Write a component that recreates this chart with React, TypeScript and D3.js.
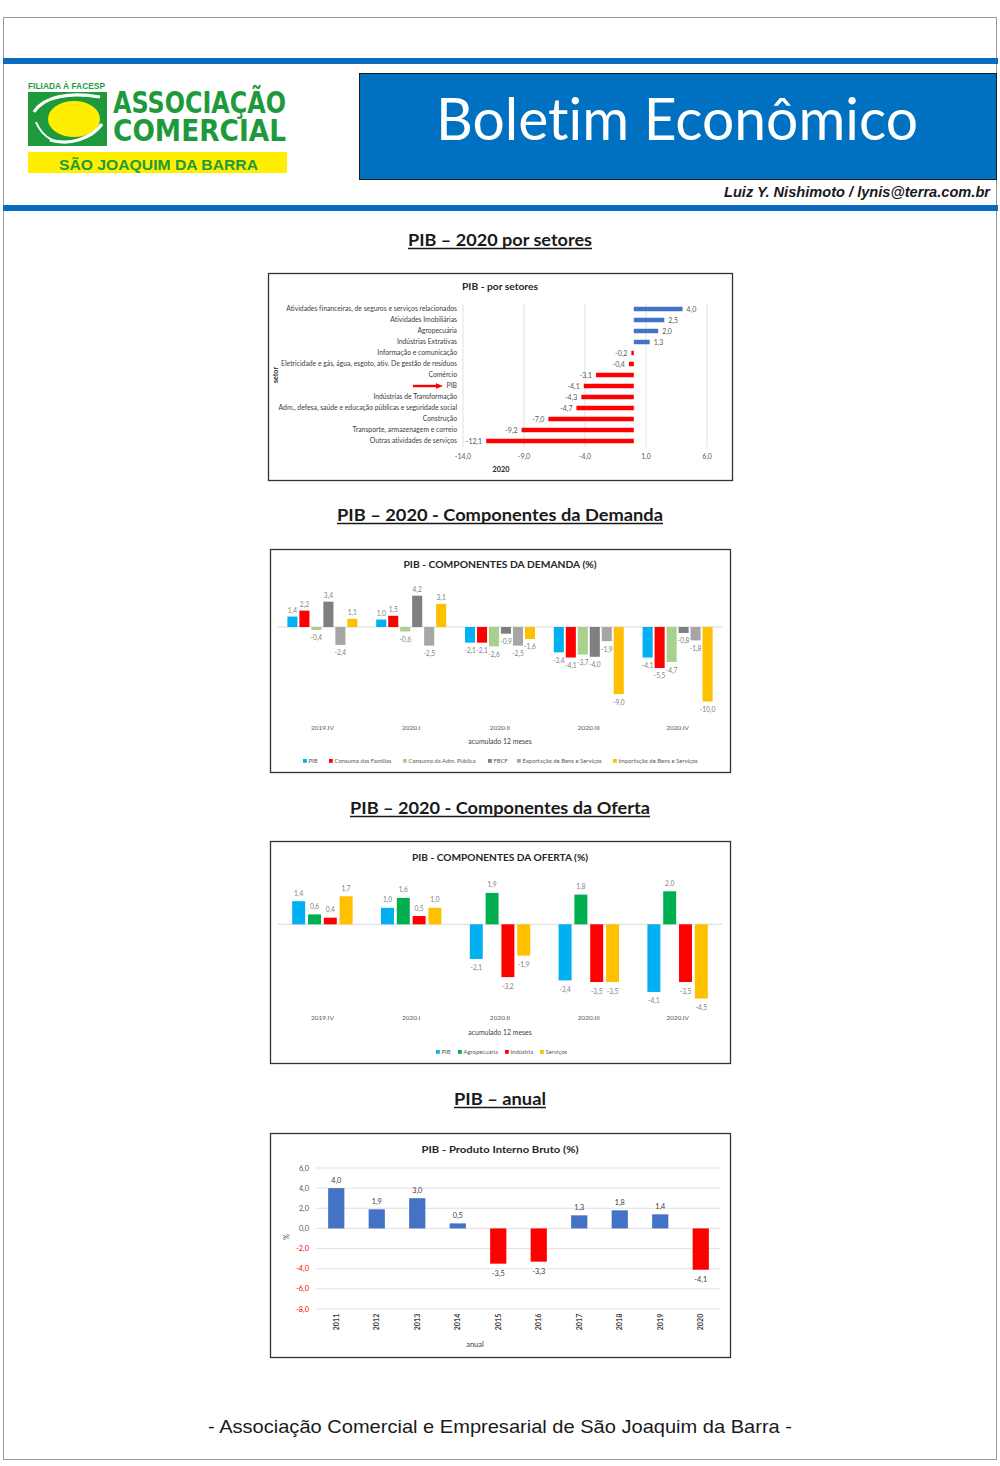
import React from 'react';
import * as d3 from 'd3';

// ---------- DATA ----------
const sectorNames = [
  'Atividades financeiras, de seguros e serviços relacionados',
  'Atividades Imobiliárias',
  'Agropecuária',
  'Indústrias Extrativas',
  'Informação e comunicação',
  'Eletricidade e gás, água, esgoto, ativ. De gestão de resíduos',
  'Comércio',
  'PIB',
  'Indústrias de Transformação',
  'Adm., defesa, saúde e educação públicas e seguridade social',
  'Construção',
  'Transporte, armazenagem e correio',
  'Outras atividades de serviços',
];
const sectorValues = [4.0, 2.5, 2.0, 1.3, -0.2, -0.4, -3.1, -4.1, -4.3, -4.7, -7.0, -9.2, -12.1];
const sectorTicks = [-14, -9, -4, 1, 6];

const quarters = ['2019.IV', '2020.I', '2020.II', '2020.III', '2020.IV'];

const demandSeries = [
  'PIB',
  'Consumo das Famílias',
  'Consumo da Adm. Pública',
  'FBCF',
  'Exportação de Bens e Serviços',
  'Importação de Bens e Serviços',
];
const demandColors = ['#00B0F0', '#FF0000', '#A9D18E', '#7F7F7F', '#A6A6A6', '#FFC000'];
const demandPIB = [1.4, 1.0, -2.1, -3.4, -4.1];
const demandFamilias = [2.2, 1.5, -2.1, -4.1, -5.5];
const demandAdmPublica = [-0.4, -0.6, -2.6, -3.7, -4.7];
const demandFBCF = [3.4, 4.2, -0.9, -4.0, -0.8];
const demandExportacao = [-2.4, -2.5, -2.5, -1.9, -1.8];
const demandImportacao = [1.1, 3.1, -1.6, -9.0, -10.0];

const offerSeries = ['PIB', 'Agropecuária', 'Indústria', 'Serviços'];
const offerColors = ['#00B0F0', '#00B050', '#FF0000', '#FFC000'];
const offerPIB = [1.4, 1.0, -2.1, -3.4, -4.1];
const offerAgro = [0.6, 1.6, 1.9, 1.8, 2.0];
const offerIndustria = [0.4, 0.5, -3.2, -3.5, -3.5];
const offerServicos = [1.7, 1.0, -1.9, -3.5, -4.5];

const annualYears = ['2011', '2012', '2013', '2014', '2015', '2016', '2017', '2018', '2019', '2020'];
const annualValues = [4.0, 1.9, 3.0, 0.5, -3.5, -3.3, 1.3, 1.8, 1.4, -4.1];
const annualTicks = [6, 4, 2, 0, -2, -4, -6, -8];

// ---------- HELPERS ----------
const fmt = (v: number) => (v < 0 ? '-' : '') + Math.abs(v).toFixed(1).replace('.', ',');
const CAL = 'Lato, "Open Sans", sans-serif';
const ARIAL = '"Liberation Sans", Arial, sans-serif';
const BLUE = '#4472C4';
const RED = '#FF0000';
const GRID = '#D9D9D9';
const NOLIG = { fontVariantLigatures: 'none' as const };

function SectionTitle({ text, y, x1, x2 }: { text: string; y: number; x1: number; x2: number }) {
  return (
    <g>
      <text x={(x1 + x2) / 2} y={y} textAnchor="middle" fontFamily={CAL} fontWeight={700} fontSize={17}
        fill="#1a1a1a" textLength={x2 - x1} lengthAdjust="spacingAndGlyphs" style={NOLIG}>{text}</text>
      <line x1={x1} x2={x2} y1={y + 2.5} y2={y + 2.5} stroke="#1a1a1a" strokeWidth={1.3} />
    </g>
  );
}

function ChartTitle({ text, y, w }: { text: string; y: number; w: number }) {
  return (
    <text x={500} y={y} textAnchor="middle" fontFamily={CAL} fontWeight={700} fontSize={10} fill="#262626"
      textLength={w} lengthAdjust="spacingAndGlyphs" style={NOLIG}>{text}</text>
  );
}

function Header() {
  const condensed = '"DejaVu Sans Condensed", "DejaVu Sans", sans-serif';
  return (
    <g>
      <rect x={3.5} y={17.5} width={993} height={1442} fill="#fff" stroke="#9a9a9a" strokeWidth={1} />
      <rect x={3} y={58} width={995} height={6} fill="#0A6BC0" />
      <rect x={3} y={205} width={995} height={6} fill="#0A6BC0" />
      {/* logo */}
      <text x={28} y={88.5} fontFamily={ARIAL} fontWeight={700} fontSize={8.2} fill="#1E9A3C"
        textLength={77} lengthAdjust="spacingAndGlyphs">FILIADA À FACESP</text>
      <rect x={28} y={92} width={79} height={54} fill="#1E9A3C" />
      <ellipse cx={74} cy={119} rx={26} ry={18} fill="#FFEE00" />
      <path d="M34,112 C44,96 70,92 100,97" fill="none" stroke="#fff" strokeWidth={3.2} />
      <path d="M50,140 C70,146 92,138 102,124" fill="none" stroke="#fff" strokeWidth={3.2} />
      <path d="M36,122 C40,132 46,137 52,140" fill="none" stroke="#fff" strokeWidth={2} />
      <text fontFamily={condensed} fontWeight={700} fontSize={30} fill="#1E9A3C">
        <tspan x={113} y={113} textLength={173} lengthAdjust="spacingAndGlyphs">ASSOCIAÇÃO</tspan>
        <tspan x={113} y={141} textLength={173} lengthAdjust="spacingAndGlyphs">COMERCIAL</tspan>
      </text>
      <rect x={28} y={152} width={259} height={21} fill="#FFEE00" />
      <text x={59} y={170} fontFamily={ARIAL} fontWeight={700} fontSize={15} fill="#1E9A3C"
        textLength={199} lengthAdjust="spacingAndGlyphs">SÃO JOAQUIM DA BARRA</text>
      {/* title box */}
      <rect x={359.5} y={73.5} width={637} height={106} fill="#0070C0" stroke="#1a1a1a" strokeWidth={1} />
      <text x={677} y={140} textAnchor="middle" fontFamily={CAL} fontSize={58} fill="#fff"
        textLength={482} lengthAdjust="spacingAndGlyphs" style={NOLIG}>Boletim Econômico</text>
      <text x={990} y={197} textAnchor="end" fontFamily={ARIAL} fontWeight={700} fontStyle="italic" fontSize={14}
        fill="#1a1a1a" textLength={266} lengthAdjust="spacingAndGlyphs">Luiz Y. Nishimoto / lynis@terra.com.br</text>
    </g>
  );
}

function SectorChart() {
  const x = d3.scaleLinear().domain([-14, 6]).range([463, 707]);
  const y = d3.scaleBand<string>().domain(sectorNames).range([303.5, 446.5]);
  const bh = 4.5;
  return (
    <g>
      <rect x={268.5} y={273.5} width={464} height={207} fill="#fff" stroke="#333" strokeWidth={1.3} />
      <ChartTitle text="PIB - por setores" y={290} w={76} />
      {sectorTicks.map((t) => (
        <g key={t}>
          <line x1={x(t)} x2={x(t)} y1={304} y2={447} stroke={GRID} strokeWidth={0.8} />
          <text x={x(t)} y={458.5} textAnchor="middle" fontFamily={CAL} fontSize={7} fill="#595959">{fmt(t)}</text>
        </g>
      ))}
      {sectorNames.map((n, i) => {
        const v = sectorValues[i];
        const cy = (y(n) as number) + y.bandwidth() / 2;
        const x0 = x(0), x1 = x(v);
        return (
          <g key={n}>
            <text x={457} y={cy + 2.4} textAnchor="end" fontFamily={CAL} fontSize={6.8} fill="#404040" style={NOLIG}>{n}</text>
            <rect x={Math.min(x0, x1)} y={cy - bh / 2} width={Math.abs(x1 - x0)} height={bh} fill={v >= 0 ? BLUE : RED} />
            <text x={v >= 0 ? x1 + 4 : x1 - 4} y={cy + 2.5} textAnchor={v >= 0 ? 'start' : 'end'}
              fontFamily={CAL} fontSize={7} fill="#595959">{fmt(v)}</text>
          </g>
        );
      })}
      {(() => {
        const cy = (y('PIB') as number) + y.bandwidth() / 2;
        return (
          <g>
            <line x1={413} x2={437} y1={cy} y2={cy} stroke={RED} strokeWidth={2.4} />
            <path d={`M436,${cy - 2.8} L443,${cy} L436,${cy + 2.8} Z`} fill={RED} />
          </g>
        );
      })()}
      <text x={501} y={472} textAnchor="middle" fontFamily={CAL} fontWeight={700} fontSize={7.3} fill="#262626">2020</text>
      <text transform="translate(277.5,375) rotate(-90)" textAnchor="middle" fontFamily={CAL} fontWeight={700} fontSize={7} fill="#262626">setor</text>
    </g>
  );
}

function DemandChart() {
  const data = [demandPIB, demandFamilias, demandAdmPublica, demandFBCF, demandExportacao, demandImportacao];
  const qx = d3.scaleBand<string>().domain(quarters).range([278, 722]);
  const sx = d3.scaleBand<string>().domain(demandSeries).range([-35, 35]).paddingInner(0.16);
  const y = d3.scaleLinear().domain([-10, 5]).range([701.5, 589.75]);
  const legendX = [303, 329, 403, 488, 517, 613];
  return (
    <g>
      <rect x={270.5} y={549.5} width={460} height={223} fill="#fff" stroke="#333" strokeWidth={1.3} />
      <ChartTitle text="PIB - COMPONENTES DA DEMANDA (%)" y={568} w={193} />
      <line x1={278} x2={722} y1={y(0)} y2={y(0)} stroke={GRID} strokeWidth={1} />
      {quarters.map((q, i) => {
        const c = (qx(q) as number) + qx.bandwidth() / 2;
        return (
          <g key={q}>
            {demandSeries.map((s, j) => {
              const v = data[j][i];
              const bx = c + (sx(s) as number);
              const y0 = y(0), y1 = y(v);
              return (
                <g key={s}>
                  <rect x={bx} y={Math.min(y0, y1)} width={sx.bandwidth()} height={Math.abs(y1 - y0)} fill={demandColors[j]} />
                  <text x={bx + sx.bandwidth() / 2} y={v >= 0 ? y1 - 4 : y1 + 10.5} textAnchor="middle"
                    fontFamily={CAL} fontSize={6.6} fill="#7F7F7F">{fmt(v)}</text>
                </g>
              );
            })}
            <text x={c} y={729.5} textAnchor="middle" fontFamily={CAL} fontSize={6.5} fill="#595959">{q}</text>
          </g>
        );
      })}
      <text x={500} y={743.5} textAnchor="middle" fontFamily={CAL} fontSize={6.9} fill="#404040">acumulado 12 meses</text>
      {demandSeries.map((s, j) => (
        <g key={s}>
          <rect x={legendX[j]} y={759} width={3.8} height={3.8} fill={demandColors[j]} />
          <text x={legendX[j] + 5.5} y={763} fontFamily={CAL} fontSize={5.9} fill="#595959">{s}</text>
        </g>
      ))}
    </g>
  );
}

function OfferChart() {
  const data = [offerPIB, offerAgro, offerIndustria, offerServicos];
  const qx = d3.scaleBand<string>().domain(quarters).range([278, 722]);
  const sx = d3.scaleBand<string>().domain(offerSeries).range([-30.2, 30.2]).paddingInner(0.18);
  const y = d3.scaleLinear().domain([-5, 2.5]).range([1006.8, 883.05]);
  const legendX = [436, 458, 505, 540];
  return (
    <g>
      <rect x={270.5} y={841.5} width={460} height={222} fill="#fff" stroke="#333" strokeWidth={1.3} />
      <ChartTitle text="PIB - COMPONENTES DA OFERTA (%)" y={860.5} w={176} />
      <line x1={278} x2={722} y1={y(0)} y2={y(0)} stroke={GRID} strokeWidth={1} />
      {quarters.map((q, i) => {
        const c = (qx(q) as number) + qx.bandwidth() / 2;
        return (
          <g key={q}>
            {offerSeries.map((s, j) => {
              const v = data[j][i];
              const bx = c + (sx(s) as number);
              const y0 = y(0), y1 = y(v);
              return (
                <g key={s}>
                  <rect x={bx} y={Math.min(y0, y1)} width={sx.bandwidth()} height={Math.abs(y1 - y0)} fill={offerColors[j]} />
                  <text x={bx + sx.bandwidth() / 2} y={v >= 0 ? y1 - 5.5 : y1 + 11.5} textAnchor="middle"
                    fontFamily={CAL} fontSize={6.6} fill="#7F7F7F">{fmt(v)}</text>
                </g>
              );
            })}
            <text x={c} y={1020} textAnchor="middle" fontFamily={CAL} fontSize={6.5} fill="#595959">{q}</text>
          </g>
        );
      })}
      <text x={500} y={1035} textAnchor="middle" fontFamily={CAL} fontSize={6.9} fill="#404040">acumulado 12 meses</text>
      {offerSeries.map((s, j) => (
        <g key={s}>
          <rect x={legendX[j]} y={1050} width={3.8} height={3.8} fill={offerColors[j]} />
          <text x={legendX[j] + 5.5} y={1054} fontFamily={CAL} fontSize={5.9} fill="#595959">{s}</text>
        </g>
      ))}
    </g>
  );
}

function AnnualChart() {
  const x = d3.scaleBand<string>().domain(annualYears).range([316, 721]).paddingInner(0.6).paddingOuter(0.3);
  const y = d3.scaleLinear().domain([-8, 6]).range([1309, 1168]);
  return (
    <g>
      <rect x={270.5} y={1133.5} width={460} height={224} fill="#fff" stroke="#333" strokeWidth={1.3} />
      <ChartTitle text="PIB - Produto Interno Bruto (%)" y={1152.5} w={157} />
      {annualTicks.map((t) => (
        <g key={t}>
          <line x1={316} x2={720} y1={y(t)} y2={y(t)} stroke={GRID} strokeWidth={0.8} />
          <text x={309} y={y(t) + 2.5} textAnchor="end" fontFamily={CAL} fontSize={7.3} fill={t < 0 ? RED : '#595959'}>{fmt(t)}</text>
        </g>
      ))}
      {annualYears.map((yr, i) => {
        const v = annualValues[i];
        const bx = x(yr) as number;
        const y0 = y(0), y1 = y(v);
        const c = bx + x.bandwidth() / 2;
        return (
          <g key={yr}>
            <rect x={bx} y={Math.min(y0, y1)} width={x.bandwidth()} height={Math.abs(y1 - y0)} fill={v >= 0 ? BLUE : RED} />
            <text x={c} y={v >= 0 ? y1 - 5 : y1 + 12} textAnchor="middle" fontFamily={CAL} fontSize={7.3} fill="#404040">{fmt(v)}</text>
            <text transform={`translate(${c + 2.6},1322) rotate(-90)`} textAnchor="middle" fontFamily={CAL}
              fontWeight={700} fontSize={7.2} fill="#404040">{yr}</text>
          </g>
        );
      })}
      <text transform="translate(289,1237) rotate(-90)" textAnchor="middle" fontFamily={CAL} fontSize={7.3} fill="#404040">%</text>
      <text x={475} y={1347} textAnchor="middle" fontFamily={CAL} fontSize={7.5} fill="#404040">anual</text>
    </g>
  );
}

export default function App() {
  return (
    <svg width={1000} height={1466} viewBox="0 0 1000 1466"
      style={{ position: 'absolute', left: 0, top: 0, background: '#fff' }}>
      <rect x={0} y={0} width={1000} height={1466} fill="#fff" />
      <Header />
      <SectionTitle text="PIB – 2020 por setores" y={246} x1={408} x2={592} />
      <SectorChart />
      <SectionTitle text="PIB – 2020 - Componentes da Demanda" y={521} x1={337} x2={663} />
      <DemandChart />
      <SectionTitle text="PIB – 2020 - Componentes da Oferta" y={814} x1={350} x2={650} />
      <OfferChart />
      <SectionTitle text="PIB – anual" y={1105} x1={454} x2={546} />
      <AnnualChart />
      <text x={500} y={1433} textAnchor="middle" fontFamily={ARIAL} fontSize={18.5} fill="#1a1a1a"
        textLength={584} lengthAdjust="spacingAndGlyphs">- Associação Comercial e Empresarial de São Joaquim da Barra -</text>
    </svg>
  );
}
